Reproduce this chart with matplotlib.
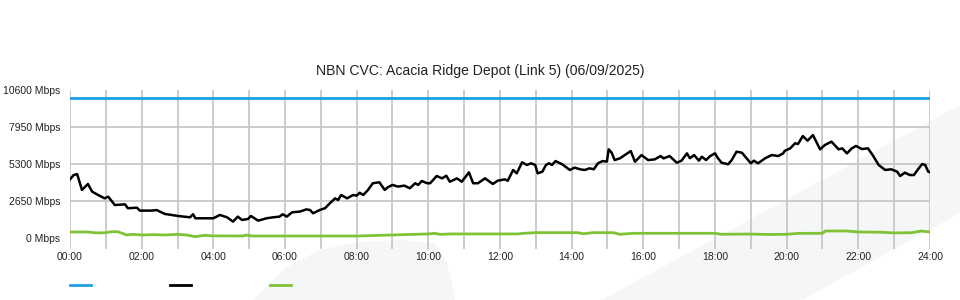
import matplotlib
matplotlib.use('Agg')
import matplotlib.pyplot as plt
from matplotlib.patches import Polygon
from matplotlib.lines import Line2D

plt.rcParams['font.family'] = ['Liberation Sans', 'DejaVu Sans']

TITLE = 'NBN CVC: Acacia Ridge Depot (Link 5) (06/09/2025)'

# capacity of the link (Mbps)
capacity = 10000

# traffic samples: time of day, Mbps
traffic_times = [
    '00:00', '00:06', '00:12', '00:20', '00:30', '00:37', '00:47', '00:58', '01:04', '01:15',
    '01:32', '01:37', '01:52', '01:57', '02:17', '02:25', '02:39', '03:01', '03:21', '03:26',
    '03:30', '04:00', '04:11', '04:23', '04:33', '04:41', '04:48', '04:58', '05:03', '05:15',
    '05:29', '05:40', '05:51', '05:56', '06:03', '06:12', '06:25', '06:36', '06:42', '06:47',
    '06:58', '07:07', '07:15', '07:24', '07:29', '07:34', '07:44', '07:54', '08:00', '08:05',
    '08:11', '08:19', '08:27', '08:38', '08:47', '08:52', '09:00', '09:09', '09:20', '09:29',
    '09:38', '09:43', '09:49', '09:58', '10:03', '10:14', '10:23', '10:30', '10:36', '10:48',
    '10:56', '11:08', '11:15', '11:23', '11:35', '11:48', '11:56', '12:08', '12:13', '12:22',
    '12:28', '12:37', '12:45', '12:52', '12:59', '13:03', '13:11', '13:17', '13:22', '13:27',
    '13:33', '13:44', '13:57', '14:05', '14:14', '14:22', '14:30', '14:37', '14:44', '14:52',
    '14:59', '15:02', '15:07', '15:12', '15:21', '15:29', '15:39', '15:46', '15:57', '16:08',
    '16:19', '16:29', '16:34', '16:44', '16:56', '17:04', '17:13', '17:18', '17:25', '17:33',
    '17:38', '17:45', '17:52', '18:00', '18:05', '18:11', '18:22', '18:28', '18:36', '18:45',
    '18:53', '19:00', '19:05', '19:12', '19:24', '19:35', '19:46', '19:54', '19:57', '20:06',
    '20:14', '20:19', '20:27', '20:35', '20:44', '20:56', '21:04', '21:15', '21:27', '21:33',
    '21:41', '21:49', '21:56', '22:06', '22:16', '22:24', '22:34', '22:45', '22:55', '23:05',
    '23:10', '23:18', '23:26', '23:33', '23:40', '23:47', '23:52', '23:57', '24:00',
]
traffic_mbps = [
    4200, 4500, 4580, 3440, 3870, 3320, 3080, 2840, 2960, 2360,
    2410, 2130, 2170, 1960, 1960, 2000, 1720, 1575, 1480, 1700,
    1410, 1410, 1650, 1480, 1170, 1530, 1290, 1360, 1575, 1240,
    1410, 1480, 1530, 1700, 1530, 1840, 1890, 2050, 2000, 1770,
    2000, 2130, 2480, 2840, 2720, 3080, 2840, 3080, 3030, 3240,
    3080, 3440, 3920, 3990, 3440, 3630, 3800, 3680, 3750, 3560,
    3920, 3800, 4080, 3920, 3920, 4440, 4270, 4460, 4030, 4270,
    4030, 4700, 3920, 3920, 4270, 3870, 4100, 4200, 4100, 4870,
    4630, 5420, 5230, 5350, 5230, 4630, 4750, 5230, 5350, 5230,
    5510, 5280, 4870, 5040, 4920, 4870, 4990, 4920, 5350, 5510,
    5470, 6350, 6110, 5580, 5710, 5940, 6230, 5460, 5940, 5580,
    5630, 5870, 5700, 5870, 5390, 5540, 6060, 5710, 5940, 5540,
    5820, 5580, 5870, 6060, 5710, 5390, 5280, 5580, 6180, 6110,
    5710, 5350, 5540, 5350, 5710, 5940, 5870, 6060, 6250, 6420,
    6780, 6730, 7300, 6970, 7370, 6350, 6660, 6900, 6350, 6420,
    6060, 6420, 6590, 6370, 6420, 5940, 5230, 4870, 4920, 4750,
    4440, 4680, 4510, 4510, 4920, 5300, 5230, 4750, 4710,
]

# second (green) series
green_times = [
    '00:00', '00:30', '00:40', '00:50', '01:00', '01:10', '01:20', '01:35', '01:45', '02:00',
    '02:20', '02:40', '03:00', '03:15', '03:30', '03:45', '04:00', '04:50', '04:55', '05:05',
    '06:00', '07:00', '08:00', '09:00', '10:00', '10:10', '10:20', '10:40', '12:30', '12:40',
    '13:00', '14:10', '14:20', '14:35', '15:10', '15:20', '15:45', '18:00', '18:10', '19:00',
    '19:30', '20:00', '20:20', '21:00', '21:05', '21:40', '22:00', '22:40', '23:00', '23:30',
    '23:45', '24:00',
]
green_mbps = [
    430, 430, 380, 360, 380, 450, 450, 215, 260, 215,
    240, 215, 260, 215, 95, 190, 150, 145, 210, 140,
    140, 140, 140, 215, 290, 330, 260, 290, 290, 335,
    380, 380, 300, 380, 380, 265, 335, 335, 265, 280,
    250, 265, 330, 335, 500, 500, 430, 410, 360, 380,
    500, 430,
]

y_ticks = [0, 2650, 5300, 7950, 10600]
x_ticks = list(range(0, 25, 2))

BLUE = '#1ba1e2'
GREEN = '#80c236'


def to_hours(t):
    h, m = t.split(':')
    return int(h) + int(m) / 60.0


fig = plt.figure(figsize=(9.6, 3.0), dpi=100)

# faint logo watermark behind the chart (figure pixel coords, origin top-left)
W, H = 960.0, 300.0
hump = [(253, 300), (285, 268), (320, 250), (360, 242), (400, 240), (435, 243),
        (447, 262), (452, 285), (455, 300)]
band = [(602, 300), (960, 105), (960, 213), (802, 300)]
for shape in (hump, band):
    pts = [(x / W, 1 - y / H) for x, y in shape]
    fig.patches.append(Polygon(pts, closed=True, transform=fig.transFigure,
                               facecolor='#f5f6f8', edgecolor='none', zorder=-10))

ax = fig.add_axes([70 / W, 1 - 249 / H, 860 / W, 159 / H])
ax.set_facecolor('none')
ax.set_zorder(1)

ax.plot([0, 24], [capacity, capacity], color=BLUE, lw=2.0, zorder=3)
ax.plot([to_hours(t) for t in green_times], green_mbps, color=GREEN, lw=2.0, zorder=3)
ax.plot([to_hours(t) for t in traffic_times], traffic_mbps, color='black', lw=1.8, zorder=4)

ax.set_xlim(0, 24)
ax.set_ylim(-790, 10600)

# hourly vertical grid, horizontal grid on inner y ticks
for h in range(0, 25):
    ax.axvline(h, color='#c4c4c4', lw=1.2, zorder=1)
for v in y_ticks[1:-1]:
    ax.axhline(v, color='#c4c4c4', lw=1.2, zorder=1)

ax.set_xticks(x_ticks)
ax.set_xticklabels(['%02d:00' % h for h in x_ticks])
ax.set_yticks(y_ticks)
ax.set_yticklabels(['%d Mbps' % v for v in y_ticks])
ax.tick_params(axis='both', length=0, labelsize=7.5, colors='#222222')
ax.tick_params(axis='x', pad=2)
ax.tick_params(axis='y', pad=7)
for s in ax.spines.values():
    s.set_visible(False)

fig.text(480 / W, 1 - 71 / H, TITLE, ha='center', va='center', fontsize=10.1, color='#222222')

# legend keys (no labels in the original)
for x0, c in ((70, BLUE), (170, 'black'), (270, GREEN)):
    fig.lines.append(Line2D([x0 / W, (x0 + 21) / W], [1 - 285 / H, 1 - 285 / H],
                            transform=fig.transFigure, color=c, lw=2.0))

fig.savefig('out.png', dpi=100)
